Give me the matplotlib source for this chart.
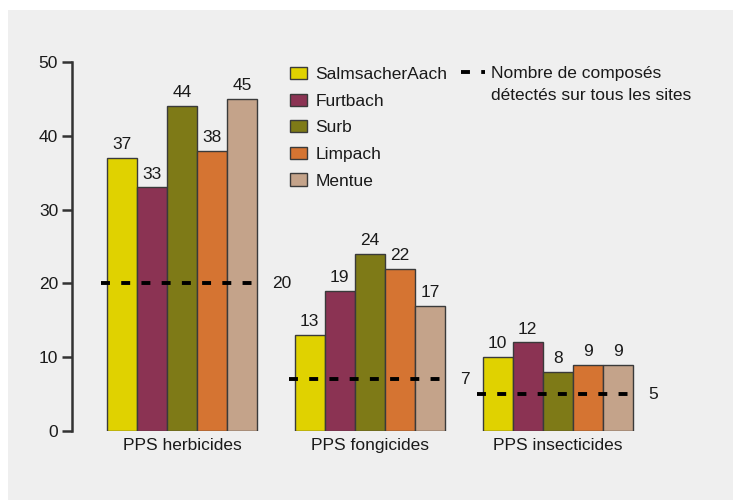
import matplotlib.pyplot as plt
import numpy as np
from matplotlib.lines import Line2D
from matplotlib.patches import Rectangle

# data
categories = ['PPS herbicides', 'PPS fongicides', 'PPS insecticides']
sites = ['SalmsacherAach', 'Furtbach', 'Surb', 'Limpach', 'Mentue']
salmsacher = [37, 13, 10]
furtbach = [33, 19, 12]
surb = [44, 24, 8]
limpach = [38, 22, 9]
mentue = [45, 17, 9]
all_sites = [20, 7, 5]  # compounds detected on every site

colors = ['#e0d200', '#8b3353', '#7e7a17', '#d57432', '#c4a38a']
series = [salmsacher, furtbach, surb, limpach, mentue]

plt.rcParams['font.family'] = ['Liberation Sans', 'DejaVu Sans']
fs = 12.5
tc = '#1a1a1a'

W, H = 733, 500
fig = plt.figure(figsize=(W / 100, H / 100), dpi=100)
fig.patch.set_facecolor('white')
# grey panel
fig.patches.append(Rectangle((8 / W, 0), 1, 1 - 10 / H, transform=fig.transFigure,
                             facecolor='#efefef', edgecolor='none', zorder=-5))

ax = fig.add_axes([72 / W, 69 / H, (710 - 72) / W, 369 / H])
ax.set_facecolor('none')

x = np.arange(len(categories))
width = 0.16
bars = []
for i, (vals, c) in enumerate(zip(series, colors)):
    pos = x + (i - 2) * width
    b = ax.bar(pos, vals, width, color=c, edgecolor='#3a3a3a', linewidth=1.0,
               label=sites[i], zorder=2)
    bars.append(b)
    for p, v in zip(pos, vals):
        ax.text(p, v + 0.8, str(v), ha='center', va='bottom', fontsize=fs, color=tc)

for xi, v in zip(x, all_sites):
    ax.plot([xi - 0.43, xi + 0.41], [v, v], color='black', lw=2.8,
            dashes=(2.3, 2.9), zorder=3)
    ax.text(xi + 0.48, v, str(v), ha='left', va='center', fontsize=fs, color=tc)

for xi, cat in zip(x, categories):
    ax.text(xi, -0.9, cat, ha='center', va='top', fontsize=fs, color=tc)

ax.set_ylim(0, 50)
ax.set_xlim(-0.585, 2.81)
ax.set_yticks([0, 10, 20, 30, 40, 50])
ax.set_xticks([])
for s in ['top', 'right', 'bottom']:
    ax.spines[s].set_visible(False)
ax.spines['left'].set_linewidth(1.8)
ax.spines['left'].set_color('#333333')
ax.tick_params(axis='y', length=7, width=1.8, color='#333333', labelsize=fs,
               labelcolor=tc, pad=3)

leg1 = ax.legend(handles=[b[0] for b in bars], labels=sites, loc='upper left',
                 bbox_to_anchor=(290 / W, 1 - 67 / H), bbox_transform=fig.transFigure,
                 frameon=False, fontsize=fs, handlelength=1.0, handleheight=0.7,
                 handletextpad=0.45, labelspacing=0.66, borderpad=0, borderaxespad=0)
for t in leg1.get_texts():
    t.set_color(tc)
ax.add_artist(leg1)
line_h = Line2D([], [], color='black', lw=2.8, dashes=(2.3, 2.9))
leg2 = ax.legend(handles=[line_h], labels=['Nombre de composés'],
                 loc='upper left', bbox_to_anchor=(461 / W, 1 - 66 / H),
                 bbox_transform=fig.transFigure, frameon=False, fontsize=fs,
                 handlelength=1.4, handletextpad=0.3, borderpad=0, borderaxespad=0)
for t in leg2.get_texts():
    t.set_color(tc)
fig.text(491 / W, 1 - 96 / H, 'détectés sur tous les sites', ha='left', va='center',
         fontsize=fs, color=tc)

fig.savefig('out.png', dpi=100)
